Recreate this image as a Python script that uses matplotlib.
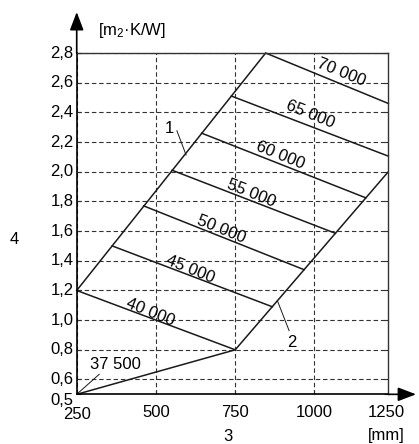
import matplotlib
matplotlib.use("Agg")
import matplotlib.pyplot as plt
from matplotlib.transforms import blended_transform_factory

plt.rcParams["font.family"] = ["Liberation Sans", "DejaVu Sans"]
plt.rcParams["mathtext.default"] = "regular"

# axis ticks
x_ticks = [250, 500, 750, 1000, 1250]
x_tick_labels = ["250", "500", "750", "1000", "1250"]
y_ticks = [0.5, 0.6, 0.8, 1.0, 1.2, 1.4, 1.6, 1.8, 2.0, 2.2, 2.4, 2.6, 2.8]
y_tick_labels = ["0,5", "0,6", "0,8", "1,0", "1,2", "1,4", "1,6", "1,8",
                 "2,0", "2,2", "2,4", "2,6", "2,8"]

# boundary lines
line1_x = [250, 846]
line1_y = [1.2, 2.8]
line2_x = [750, 1233]
line2_y = [0.8, 2.0]
base_x = [250, 750]
base_y = [0.5, 0.8]

# constant lines (start on line 1, end on line 2 / right edge)
iso_labels = ["40 000", "45 000", "50 000", "55 000", "60 000", "65 000", "70 000"]
iso_x0 = [250, 362, 461, 551, 644, 738, 846]
iso_y0 = [1.2, 1.5, 1.77, 2.01, 2.26, 2.51, 2.8]
iso_x1 = [750, 867, 967, 1066, 1162, 1233, 1233]
iso_y1 = [0.8, 1.09, 1.34, 1.585, 1.824, 2.105, 2.46]

XMAX = 1233
LC = "#1a1a1a"

fig = plt.figure(figsize=(4.19, 4.44), dpi=100)
ax = fig.add_axes([0.1831, 0.1119, 0.7437, 0.7687])
ax.set_xlim(250, XMAX)
ax.set_ylim(0.5, 2.8)

ax.set_xticks(x_ticks[:-1])
ax.set_yticks(y_ticks)
ax.set_xticklabels([])
ax.set_yticklabels([])
ax.tick_params(direction="in", length=3, width=0.8, left=True, right=True,
               bottom=True, top=False, color="#333333")
ax.grid(True, color="#333333", linestyle=(0, (4, 2.5)), linewidth=0.8)

for side in ["left", "bottom"]:
    ax.spines[side].set_linewidth(1.2)
    ax.spines[side].set_color("black")
for side in ["top", "right"]:
    ax.spines[side].set_linewidth(1.0)
    ax.spines[side].set_color("#333333")

# tick labels as plain text
bx = blended_transform_factory(ax.transData, ax.transAxes)
for v, s in zip(x_ticks, x_tick_labels):
    ax.text(min(v, XMAX - 5), -0.058 if v == 250 else -0.054, s, transform=bx,
            ha="center", va="center", fontsize=12, clip_on=False)
by = blended_transform_factory(ax.transAxes, ax.transData)
for v, s in zip(y_ticks, y_tick_labels):
    yy = v - 0.04 if v == 0.5 else v
    ax.text(-0.01, yy, s, transform=by, ha="right", va="center",
            fontsize=12, clip_on=False)

# main lines
ax.plot(line1_x, line1_y, color=LC, lw=1.1)
ax.plot(line2_x, line2_y, color=LC, lw=1.1)
ax.plot(base_x, base_y, color=LC, lw=1.1)
for x0, y0, x1, y1 in zip(iso_x0, iso_y0, iso_x1, iso_y1):
    ax.plot([x0, x1], [y0, y1], color=LC, lw=1.1, clip_on=False)

# labels along the constant lines
lab_x = [481, 608, 706, 800, 892, 986, 1085]
lab_y = [1.055, 1.345, 1.614, 1.857, 2.108, 2.385, 2.668]
for s, lx, ly in zip(iso_labels, lab_x, lab_y):
    ax.text(lx, ly, s, rotation=-22, rotation_mode="anchor", ha="center",
            va="center", fontsize=12)

ax.text(372, 0.701, "37 500", ha="center", va="center", fontsize=12)
ax.plot([321, 250], [0.635, 0.5], color=LC, lw=0.7)

ax.text(543, 2.291, "1", ha="center", va="center", fontsize=12)
ax.plot([566, 595], [2.276, 2.113], color=LC, lw=0.7)

ax.text(930, 0.849, "2", ha="center", va="center", fontsize=12)
ax.plot([920, 883], [0.929, 1.131], color=LC, lw=0.7)

# axis arrows
arrow = dict(arrowstyle="-|>,head_length=1.1,head_width=0.42", color="black",
             lw=1.2, shrinkA=0, shrinkB=0, mutation_scale=10)
ax.annotate("", xy=(0, 1.12), xytext=(0, 1), xycoords="axes fraction",
            textcoords="axes fraction", arrowprops=arrow)
ax.annotate("", xy=(1.089, 0), xytext=(1, 0), xycoords="axes fraction",
            textcoords="axes fraction", arrowprops=arrow)

# axis titles
fig.text(132 / 419, 1 - 31 / 444, r"[m$_{2}$·K/W]", ha="center", va="center",
         fontsize=12)
fig.text(386 / 419, 1 - 435 / 444, "[mm]", ha="center", va="center", fontsize=12)
fig.text(228 / 419, 1 - 436 / 444, "3", ha="center", va="center", fontsize=12)
fig.text(14 / 419, 1 - 239 / 444, "4", ha="center", va="center", fontsize=12)

fig.savefig("out.png", dpi=100)
